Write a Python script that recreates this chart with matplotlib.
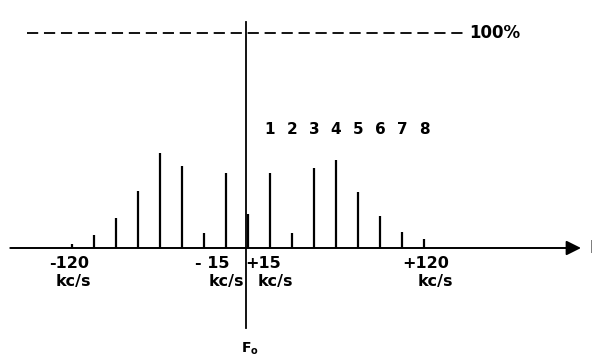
import matplotlib.pyplot as plt

# sideband positions (kc/s) and amplitudes (% of unmodulated carrier)
freqs = [-120, -105, -90, -75, -60, -45, -30, -15, 0,
         15, 30, 45, 60, 75, 90, 105, 120]
amps = [2, 6, 14, 26.5, 44, 38, 7, 35, 16,
        35, 7, 37, 41, 26, 15, 7.5, 4]
order_labels = ['1', '2', '3', '4', '5', '6', '7', '8']
order_freqs = [15, 30, 45, 60, 75, 90, 105, 120]

fig = plt.figure(figsize=(5.92, 3.62), dpi=100)
ax = fig.add_axes([0, 0, 1, 1])
ax.set_xlim(-169, 234.5)
ax.set_ylim(-53, 115.3)
ax.axis('off')

# spectral lines
ax.vlines(freqs, 0, amps, color='black', lw=1.6)

# frequency axis with arrow
ax.annotate('', xy=(227, 0), xytext=(-162, 0),
            arrowprops=dict(arrowstyle='-|>', color='black', lw=1.4,
                            mutation_scale=22, shrinkA=0, shrinkB=0))
# the axis letter is cut off by the right edge, as in the original scan
ax.text(233, 0, 'F', fontsize=12, fontweight='bold', va='center', ha='left')

# carrier reference (vertical)
ax.plot([-1.3, -1.3], [-37, 105], color='black', lw=1.3)

# 100 % level
ax.plot([-150.7, 146.6], [100, 100], color='black', lw=1.3,
        dashes=(6.2, 3.2))
ax.text(151, 100, '100%', fontsize=12, fontweight='bold', va='center', ha='left')

# sideband order numbers
for lab, f in zip(order_labels, order_freqs):
    ax.text(f, 55, lab, fontsize=11, fontweight='bold', ha='center', va='center')

# frequency labels
ax.text(-122, -7, '-120', fontsize=11.5, fontweight='bold', ha='center', va='center')
ax.text(-119, -15.5, 'kc/s', fontsize=11.5, fontweight='bold', ha='center', va='center')
ax.text(-24, -7, '- 15', fontsize=11.5, fontweight='bold', ha='center', va='center')
ax.text(-15, -15.5, 'kc/s', fontsize=11.5, fontweight='bold', ha='center', va='center')
ax.text(10.5, -7, '+15', fontsize=11.5, fontweight='bold', ha='center', va='center')
ax.text(19, -15.5, 'kc/s', fontsize=11.5, fontweight='bold', ha='center', va='center')
ax.text(121, -7, '+120', fontsize=11.5, fontweight='bold', ha='center', va='center')
ax.text(128, -15.5, 'kc/s', fontsize=11.5, fontweight='bold', ha='center', va='center')

ax.text(1.5, -47, r'F$_\mathbf{o}$', fontsize=10, fontweight='bold', ha='center', va='center')

fig.savefig('out.png', dpi=100, facecolor='white')
